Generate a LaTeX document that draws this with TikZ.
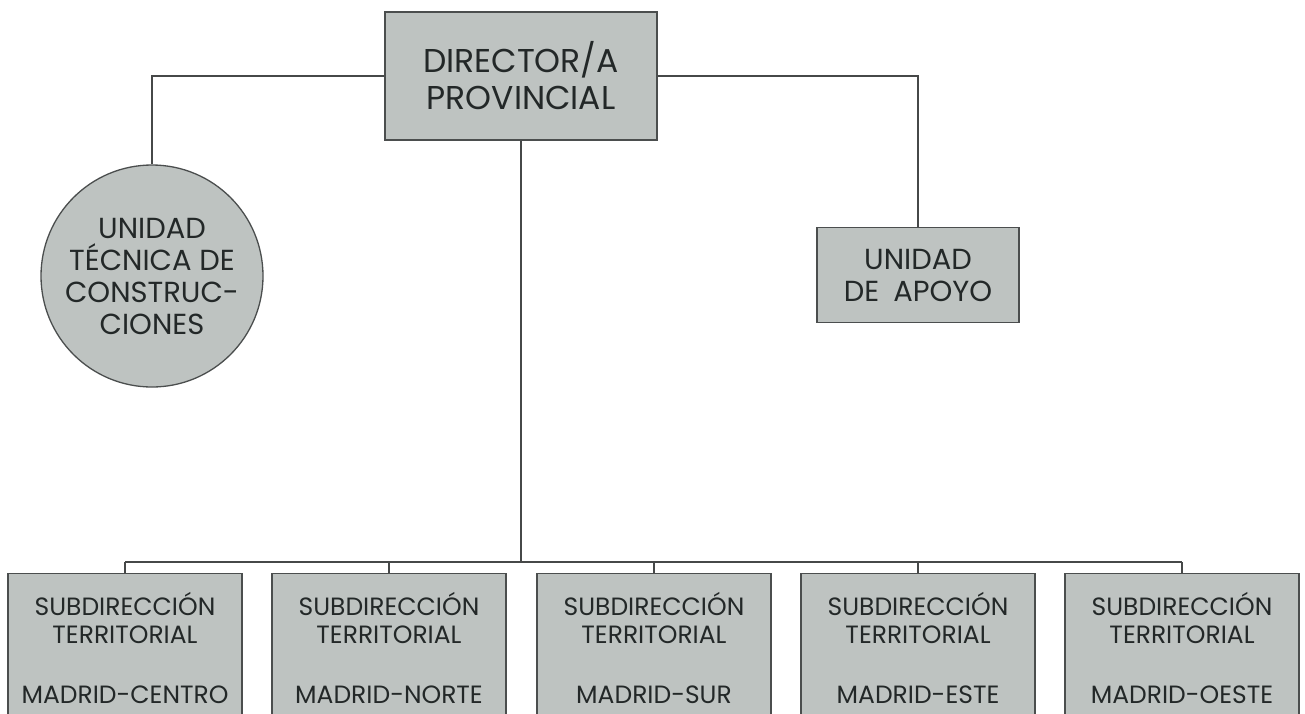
\documentclass[tikz,border=0pt]{standalone}
\usepackage{fontspec}
\setmainfont{Poppins}
\usetikzlibrary{positioning}

\definecolor{gris}{RGB}{190,195,193}
\definecolor{borde}{RGB}{75,78,78}
\definecolor{texto}{RGB}{35,40,40}
\definecolor{trazo}{RGB}{70,72,72}

\tikzset{
  caja/.style={draw=borde, fill=gris, line width=1.3pt, align=center,
    text=texto, inner sep=0pt},
  linea/.style={draw=trazo, line width=1.1pt},
}

\begin{document}
\begin{tikzpicture}[x=1pt,y=-1pt]
  \useasboundingbox (0,0) rectangle (1305,713);
  \clip (0,0) rectangle (1305,713);

  \node[caja, minimum width=272, minimum height=128,
    font=\fontsize{33}{37}\selectfont] (dir) at (521,76) {DIRECTOR/A\\PROVINCIAL};
  \node[caja, circle, minimum size=222,
    font=\fontsize{29}{32}\selectfont] (utc) at (152,276)
    {UNIDAD\\TÉCNICA DE\\CONSTRUC-\\CIONES};
  \node[caja, minimum width=202, minimum height=95,
    font=\fontsize{29}{32}\selectfont] (apoyo) at (918,275)
    {UNIDAD\\DE\hspace{14pt}APOYO};
  \coordinate (bar) at (521,562);

  % subdirecciones territoriales
  \foreach \i/\x/\zona in {1/125/CENTRO, 2/389/NORTE, 3/654/SUR, 4/918/ESTE, 5/1182/OESTE}
  {
    \node[caja, anchor=north, minimum width=234, minimum height=148,
      font=\fontsize{25}{28}\selectfont] (st\i) at (\x,573)
      {SUBDIRECCIÓN\\TERRITORIAL\\[32pt]MADRID-\zona};
    \draw[linea] (st\i.north) -- (st\i.north |- bar);
  }

  \draw[linea] (dir.west) -| (utc.north);
  \draw[linea] (dir.east) -| (apoyo.north);
  \draw[linea] (dir.south) -- (bar);
  \draw[linea] (st1.north |- bar) -- (st5.north |- bar);
\end{tikzpicture}
\end{document}
